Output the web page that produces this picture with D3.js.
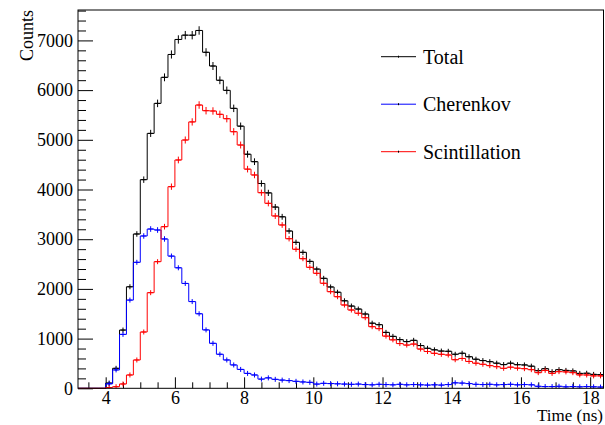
<!DOCTYPE html>
<html>
<head>
<meta charset="utf-8">
<script src="https://cdn.jsdelivr.net/npm/d3@7"></script>
<style>
  body { margin: 0; background: #fff; }
  svg { display: block; }
  text { font-family: "Liberation Serif", "Times New Roman", serif; fill: #000; }
</style>
</head>
<body>
<div id="chart"></div>
<script>

// histogram binning: 76 bins of 0.2 ns starting at 3.2 ns
const binStart = 3.2,
      binWidth = 0.2;

// counts per bin
const total = [
  0, 0, 0, 0, 105, 402, 1172, 2043, 3105, 4198,
  5129, 5733, 6257, 6717, 7019, 7106, 7105, 7200, 6761, 6485,
  6198, 5995, 5633, 5275, 4710, 4560, 4121, 3932, 3647, 3451,
  3165, 2937, 2736, 2554, 2399, 2213, 2039, 1933, 1761, 1655,
  1595, 1495, 1310, 1280, 1125, 1045, 980, 940, 965, 860,
  805, 774, 749, 745, 685, 705, 635, 585, 558, 536,
  505, 477, 505, 475, 470, 445, 355, 395, 335, 375,
  360, 350, 300, 303, 280, 275
];

const cherenkov = [
  0, 0, 0, 0, 90, 370, 1085, 1775, 2535, 3065,
  3205, 3185, 3005, 2660, 2425, 2110, 1745, 1500, 1175, 905,
  685, 570, 470, 380, 300, 268, 185, 210, 180, 165,
  155, 140, 128, 120, 85, 100, 95, 90, 85, 80,
  85, 75, 70, 80, 75, 70, 80, 70, 75, 70,
  65, 70, 65, 75, 110, 105, 95, 80, 75, 80,
  70, 75, 80, 70, 75, 70, 40, 35, 35, 40,
  30, 35, 30, 35, 30, 25
];

const scintillation = [
  0, 0, 0, 0, 15, 32, 87, 268, 570, 1133,
  1924, 2548, 3252, 4057, 4594, 4996, 5360, 5700, 5586, 5580,
  5513, 5425, 5163, 4895, 4410, 4292, 3936, 3722, 3467, 3286,
  3010, 2797, 2608, 2434, 2314, 2113, 1944, 1843, 1676, 1575,
  1510, 1420, 1240, 1200, 1050, 975, 900, 870, 890, 790,
  740, 704, 684, 670, 575, 600, 540, 505, 483, 456,
  435, 402, 425, 405, 395, 375, 315, 360, 300, 335,
  330, 315, 270, 268, 250, 250
];

const yTicks = [0, 1000, 2000, 3000, 4000, 5000, 6000, 7000];
const xTicks = [4, 6, 8, 10, 12, 14, 16, 18];

const seriesNames  = ["Total", "Cherenkov", "Scintillation"];
const seriesColors = ["#000000", "#0000ff", "#ff0000"];

const serif = "'Liberation Serif', 'Times New Roman', serif";

const width  = 605,
      height = 425;

const x = d3.scaleLinear()
  .domain([binStart, binStart + binWidth * total.length])
  .range([78, 604]);

const y = d3.scaleLinear()
  .domain([0, 7612])
  .range([388.3, 10]);

const svg = d3.select("#chart")
  .append("svg")
    .attr("width", width)
    .attr("height", height)
    .attr("font-family", serif);

// ticks: major + minor, drawn inward like ROOT
const yMinor = d3.range(0, 7601, 200).filter(v => v % 1000 !== 0);
const xMinor = d3.range(3.5, 18.4, 0.5).filter(v => Math.abs(v % 2) > 1e-6);

svg.append("g")
  .attr("transform", `translate(${x.range()[0]},0)`)
  .call(d3.axisLeft(y).tickValues(yMinor).tickSize(-8).tickFormat(""))
  .call(g => g.select(".domain").remove());

svg.append("g")
  .attr("class", "axis-y")
  .attr("transform", `translate(${x.range()[0]},0)`)
  .call(d3.axisLeft(y).tickValues(yTicks).tickSize(-15).tickPadding(5).tickFormat(d3.format("d")))
  .attr("font-family", serif)
  .attr("font-size", 18)
  .call(g => g.select(".domain").remove())
  .call(g => g.selectAll(".tick text").attr("x", -5));

svg.append("g")
  .attr("transform", `translate(0,${y(0)})`)
  .call(d3.axisBottom(x).tickValues(xMinor).tickSize(-6).tickFormat(""))
  .call(g => g.select(".domain").remove());

svg.append("g")
  .attr("class", "axis-x")
  .attr("transform", `translate(0,${y(0)})`)
  .call(d3.axisBottom(x).tickValues(xTicks).tickSize(-11).tickFormat(d3.format("d")))
  .attr("font-family", serif)
  .attr("font-size", 18)
  .call(g => g.select(".domain").remove())
  .call(g => g.selectAll(".tick text").attr("y", 3));

svg.selectAll(".tick line").attr("stroke", "#000").attr("stroke-width", 1);

// histograms
const line = d3.line().curve(d3.curveStepAfter);

function drawHist(values, color) {
  const pts = values.map((v, i) => [x(binStart + i * binWidth), y(v)]);
  pts.push([x(binStart + values.length * binWidth), y(values[values.length - 1])]);

  svg.append("path")
    .attr("d", line(pts))
    .attr("fill", "none")
    .attr("stroke", color)
    .attr("stroke-width", 1);

  const g = svg.append("g").attr("stroke", color).attr("stroke-width", 1);
  values.forEach((v, i) => {
    if (v <= 0) return;
    const xc = x(binStart + (i + 0.5) * binWidth),
          yc = y(v),
          e  = Math.max(Math.sqrt(v) * (y(0) - y(1)), 2.5);
    g.append("line")
      .attr("x1", xc).attr("x2", xc)
      .attr("y1", Math.max(yc - e, 10)).attr("y2", Math.min(yc + e, y(0)));
    g.append("line")
      .attr("x1", xc - 2.5).attr("x2", xc + 2.5)
      .attr("y1", yc).attr("y2", yc);
  });
}

drawHist(total, seriesColors[0]);
drawHist(cherenkov, seriesColors[1]);
drawHist(scintillation, seriesColors[2]);

// frame
svg.append("rect")
  .attr("x", x.range()[0])
  .attr("y", y.range()[1])
  .attr("width", 603.5 - x.range()[0])
  .attr("height", y(0) - y.range()[1])
  .attr("fill", "none")
  .attr("stroke", "#000")
  .attr("stroke-width", 1);

// axis titles
svg.append("text")
  .attr("transform", "rotate(-90)")
  .attr("x", -10)
  .attr("y", 33)
  .attr("text-anchor", "end")
  .attr("font-size", 18)
  .text("Counts");

svg.append("text")
  .attr("x", 603)
  .attr("y", 421)
  .attr("text-anchor", "end")
  .attr("font-size", 17)
  .text("Time (ns)");

// legend
const legend = svg.append("g");
seriesNames.forEach((name, i) => {
  const ly = 56.7 + i * 47.5;
  legend.append("line")
    .attr("x1", 381).attr("x2", 416)
    .attr("y1", ly).attr("y2", ly)
    .attr("stroke", seriesColors[i])
    .attr("stroke-width", 1);
  legend.append("line")
    .attr("x1", 398.5).attr("x2", 398.5)
    .attr("y1", ly - 1).attr("y2", ly + 1)
    .attr("stroke", "#000")
    .attr("stroke-width", 1);
  legend.append("text")
    .attr("x", 423)
    .attr("y", ly + 7.2)
    .attr("font-size", 20)
    .text(name);
});

</script>
</body>
</html>
